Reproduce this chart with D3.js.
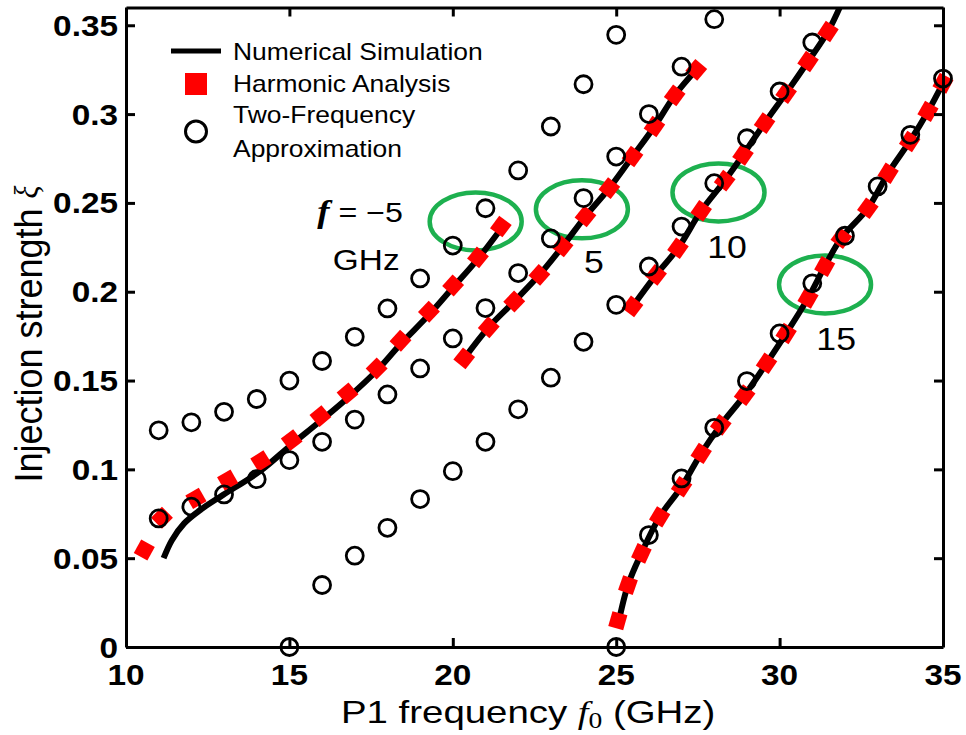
<!DOCTYPE html>
<html>
<head>
<meta charset="utf-8">
<script src="https://cdn.jsdelivr.net/npm/d3@7/dist/d3.min.js"></script>
<style>
  html, body { margin: 0; padding: 0; background: #fff; }
  svg { display: block; }
</style>
</head>
<body>
<svg id="chart" width="966" height="735"></svg>
<script>
// ---------------- DATA ----------------
const xTicks = [10, 15, 20, 25, 30, 35];
const xTickLabels = ["10", "15", "20", "25", "30", "35"];
const yTicks = [0, 0.05, 0.1, 0.15, 0.2, 0.25, 0.3, 0.35];
const yTickLabels = ["0", "0.05", "0.1", "0.15", "0.2", "0.25", "0.3", "0.35"];

// Numerical simulation curves (f = -5, 5, 10, 15 GHz)
const simM5 = [[11.15,0.050],[11.4,0.060],[11.78,0.0696],[12.3,0.0775],[12.96,0.0855],[14.08,0.0987],[15.05,0.1137],[15.92,0.1268],[16.8,0.1405],[17.67,0.1555],[18.4,0.1705],[19.27,0.187],[20.01,0.2025],[20.77,0.2185],[21.5,0.236]];
const sim5 = [[20.35,0.1625],[21.1,0.180],[21.88,0.1945],[22.65,0.2095],[23.36,0.2255],[24.06,0.2424],[24.79,0.2583],[25.5,0.2761],[26.17,0.293],[26.79,0.3105],[27.45,0.3249]];
const sim10 = [[25.5,0.1917],[26.22,0.2095],[26.89,0.2245],[27.6,0.2455],[28.32,0.2625],[28.88,0.277],[29.54,0.2949],[30.2,0.3118],[30.87,0.3296],[31.48,0.3465],[31.9,0.3625]];
const sim15 = [[25.05,0.012],[25.36,0.0349],[25.77,0.0527],[26.33,0.0733],[27.0,0.0902],[27.6,0.109],[28.2,0.125],[28.93,0.1418],[29.6,0.1597],[30.2,0.1765],[30.87,0.1964],[31.38,0.2142],[31.89,0.2302],[32.7,0.247],[33.32,0.2667],[33.98,0.2846],[34.54,0.3015],[35.0,0.3174]];

// Harmonic analysis points
const harmM5 = [[10.56,0.0546],[11.1,0.0728],[12.14,0.0837],[13.11,0.094],[14.13,0.1047],[15.07,0.1165],[15.95,0.130],[16.78,0.1428],[17.67,0.1568],[18.4,0.1724],[19.27,0.1887],[20.01,0.2035],[20.77,0.2193],[21.47,0.2367]];
const harm5 = [[20.35,0.1625],[21.1,0.180],[21.88,0.1945],[22.65,0.2095],[23.36,0.2255],[24.06,0.2424],[24.79,0.2583],[25.5,0.2761],[26.17,0.293],[26.79,0.3105],[27.45,0.3249]];
const harm10 = [[25.5,0.1917],[26.22,0.2095],[26.89,0.2245],[27.6,0.2455],[28.32,0.2625],[28.88,0.277],[29.54,0.2949],[30.2,0.3118],[30.87,0.3296],[31.48,0.3465]];
const harm15 = [[25.05,0.0148],[25.36,0.0349],[25.77,0.0527],[26.33,0.0733],[27.0,0.0902],[27.6,0.109],[28.2,0.125],[28.93,0.1418],[29.6,0.1597],[30.2,0.1765],[30.87,0.1964],[31.38,0.2142],[31.89,0.2302],[32.7,0.247],[33.32,0.2667],[33.98,0.2846],[34.54,0.3015],[35.0,0.3174]];

// Two-frequency approximation points
const twoA = [[11,0.122],[12,0.1265],[13,0.1324],[14,0.1396],[15,0.150],[16,0.161],[17,0.1746],[18,0.1906],[19,0.2075],[20,0.226],[21,0.247],[22,0.2683],[23,0.293],[24,0.3168],[25,0.3446]];
const twoB = [[11,0.0724],[12,0.079],[13,0.0859],[14,0.0945],[15,0.1052],[16,0.1155],[17,0.128],[18,0.1422],[19,0.1568],[20,0.1737],[21,0.1908],[22,0.2105],[23,0.230],[24,0.2527],[25,0.2761],[26,0.300],[27,0.3267],[28,0.3534]];
const twoC = [[15,0.0],[16,0.0349],[17,0.0514],[18,0.0671],[19,0.0833],[20,0.099],[21,0.1155],[22,0.1338],[23,0.1516],[24,0.1718],[25,0.1926],[26,0.2142],[27,0.2367],[28,0.2611],[29,0.2864],[30,0.3127],[31,0.3403]];
const twoD = [[25,0.0],[26,0.063],[27,0.0949],[28,0.1234],[29,0.1497],[30,0.1765],[31,0.2047],[32,0.2315],[33,0.2593],[34,0.2883],[35,0.320]];

// Annotations (data coordinates)
const ellipseCenters = [[20.70,0.2396],[23.95,0.2464],[28.13,0.2559],[31.39,0.2041]];
const labelNums = [["5",24.32,0.2105],["10",28.39,0.2189],["15",31.73,0.1671]];
const legendLabels = ["Numerical Simulation", "Harmonic Analysis", "Two-Frequency", "Approximation"];

// ---------------- LAYOUT ----------------
const L = 126, R = 943, T = 7.5, B = 647;
const SX = 1.15; // horizontal glyph stretch
const FONT = "'Liberation Sans', Arial, Helvetica, sans-serif";
const SERIF = "'Liberation Serif', 'Times New Roman', serif";

const svg = d3.select("#chart");
svg.append("rect").attr("width", 966).attr("height", 735).attr("fill", "#fff");

const x = d3.scaleLinear().domain([10, 35]).range([L, R]);
const y = d3.scaleLinear().domain([0, 0.36]).range([B, T]);

svg.append("defs").append("clipPath").attr("id", "plotclip")
  .append("rect").attr("x", L).attr("y", T).attr("width", R - L).attr("height", B - T);

function text(g, px, py, str, o) {
  const t = g.append("text")
    .attr("transform", `translate(${px},${py}) scale(${o.sx || SX},1)`)
    .attr("font-family", o.family || FONT)
    .attr("font-size", o.size)
    .attr("font-weight", o.weight || "normal")
    .attr("font-style", o.style || "normal")
    .attr("text-anchor", o.anchor || "start")
    .attr("fill", o.fill || "#000");
  if (str !== null) t.text(str);
  return t;
}

// ---------------- GREEN ELLIPSES ----------------
svg.append("g").selectAll("ellipse").data(ellipseCenters).join("ellipse")
  .attr("cx", d => x(d[0])).attr("cy", d => y(d[1]))
  .attr("rx", 46).attr("ry", 29)
  .attr("fill", "none").attr("stroke", "#1db04f").attr("stroke-width", 4.5);

// ---------------- SIMULATION LINES ----------------
const line = d3.line().x(d => x(d[0])).y(d => y(d[1])).curve(d3.curveCatmullRom.alpha(0.5));
const lines = svg.append("g").attr("clip-path", "url(#plotclip)");
[simM5, sim5, sim10, sim15].forEach(s => {
  lines.append("path").attr("d", line(s)).attr("fill", "none")
    .attr("stroke", "#000").attr("stroke-width", 6).attr("stroke-linecap", "butt");
});

// ---------------- HARMONIC SQUARES ----------------
const SQ = 15.5;
const sqG = svg.append("g");
[harmM5, harm5, harm10, harm15].forEach(s => {
  s.forEach((d, i) => {
    const a = s[Math.max(0, i - 1)], b = s[Math.min(s.length - 1, i + 1)];
    const ang = Math.atan2(y(b[1]) - y(a[1]), x(b[0]) - x(a[0])) * 180 / Math.PI;
    sqG.append("rect")
      .attr("x", -SQ / 2).attr("y", -SQ / 2).attr("width", SQ).attr("height", SQ)
      .attr("transform", `translate(${x(d[0])},${y(d[1])}) rotate(${ang})`)
      .attr("fill", "#ff0000");
  });
});

// ---------------- TWO-FREQUENCY CIRCLES ----------------
const circG = svg.append("g");
[twoA, twoB, twoC, twoD].forEach(s => {
  circG.selectAll(null).data(s).join("circle")
    .attr("cx", d => x(d[0])).attr("cy", d => y(d[1])).attr("r", 8.5)
    .attr("fill", "none").attr("stroke", "#000").attr("stroke-width", 2.8);
});

// ---------------- AXES ----------------
const axG = svg.append("g");
const mk = (ax, tr, vals) => axG.append("g").attr("transform", tr)
  .call(ax.tickValues(vals).tickSizeInner(-9).tickSizeOuter(0).tickFormat(""))
  .call(g => g.selectAll("path,line").attr("stroke", "#000").attr("stroke-width", 3));
mk(d3.axisBottom(x), `translate(0,${B})`, xTicks);
mk(d3.axisTop(x), `translate(0,${T})`, xTicks);
mk(d3.axisLeft(y), `translate(${L},0)`, yTicks);
mk(d3.axisRight(y), `translate(${R},0)`, yTicks);
axG.selectAll("path.domain").attr("stroke-width", 3);

// tick labels
xTicks.forEach((v, i) => text(svg, x(v), B + 38, xTickLabels[i], {size: 29, weight: "bold", anchor: "middle"}));
yTicks.forEach((v, i) => text(svg, L - 8, y(v) + 10.5, yTickLabels[i], {size: 29, weight: "bold", anchor: "end"}));

// axis titles
const xt = text(svg, 341, 723, null, {size: 32, sx: 1.2});
xt.append("tspan").text("P1 frequency ");
xt.append("tspan").attr("font-family", SERIF).attr("font-style", "italic").text("f");
xt.append("tspan").attr("font-family", SERIF).attr("font-size", 23).attr("dy", 5).text("0");
xt.append("tspan").attr("dy", -5).text(" (GHz)");

const yt = svg.append("text")
  .attr("transform", `translate(42,334) rotate(-90) scale(1,1.1)`)
  .attr("font-family", FONT).attr("font-size", 36).attr("text-anchor", "middle");
yt.append("tspan").text("Injection strength ");
yt.append("tspan").attr("font-family", SERIF).attr("font-style", "italic").attr("font-size", 30).attr("dy", -4).text("ξ");

// ---------------- LEGEND ----------------
const lg = svg.append("g");
lg.append("line").attr("x1", 171).attr("x2", 221).attr("y1", 51).attr("y2", 51)
  .attr("stroke", "#000").attr("stroke-width", 5);
lg.append("rect").attr("x", 185).attr("y", 73).attr("width", 22).attr("height", 22).attr("fill", "#ff0000");
lg.append("circle").attr("cx", 196).attr("cy", 131.5).attr("r", 10.5)
  .attr("fill", "none").attr("stroke", "#000").attr("stroke-width", 3);
[60, 92, 123, 157].forEach((by, i) => text(lg, 233, by, legendLabels[i], {size: 23}));

// ---------------- ANNOTATION TEXT ----------------
const ft = text(svg, x(15.85), y(0.2391), null, {size: 28});
ft.append("tspan").attr("font-family", SERIF).attr("font-style", "italic").attr("font-weight", "bold").attr("font-size", 32).text("f");
ft.append("tspan").text(" = \u22125");
text(svg, x(16.33), y(0.2122), "GHz", {size: 29});
labelNums.forEach(d => text(svg, x(d[1]), y(d[2]), d[0], {size: 31, anchor: "middle"}));
</script>
</body>
</html>
